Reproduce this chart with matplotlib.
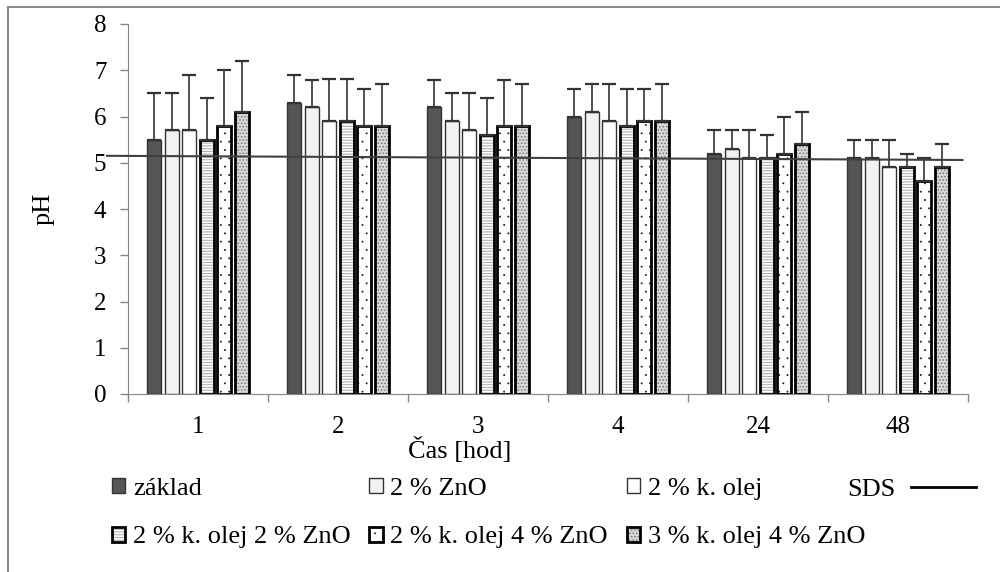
import numpy as np
import matplotlib
matplotlib.use("Agg")
import matplotlib.pyplot as plt
import matplotlib.hatch
from matplotlib.lines import Line2D

plt.rcParams['font.family'] = ['Liberation Serif', 'DejaVu Serif']
plt.rcParams['hatch.linewidth'] = 0.8
# smaller dots for the '.' hatch, closer to the Excel pattern fills
matplotlib.hatch.SmallFilledCircles.size = 0.05

# data
times = ['1', '2', '3', '4', '24', '48']
series = ['základ', '2 % ZnO', '2 % k. olej',
          '2 % k. olej 2 % ZnO', '2 % k. olej 4 % ZnO', '3 % k. olej 4 % ZnO']

zaklad = [5.5, 6.3, 6.2, 6.0, 5.2, 5.1]
zno2 = [5.7, 6.2, 5.9, 6.1, 5.3, 5.1]
olej2 = [5.7, 5.9, 5.7, 5.9, 5.1, 4.9]
olej2_zno2 = [5.5, 5.9, 5.6, 5.8, 5.1, 4.9]
olej2_zno4 = [5.8, 5.8, 5.8, 5.9, 5.2, 4.6]
olej3_zno4 = [6.1, 5.8, 5.8, 5.9, 5.4, 4.9]

err_zaklad = [1.0, 0.6, 0.6, 0.6, 0.5, 0.4]
err_zno2 = [0.8, 0.6, 0.6, 0.6, 0.4, 0.4]
err_olej2 = [1.2, 0.9, 0.8, 0.8, 0.6, 0.6]
err_olej2_zno2 = [0.9, 0.9, 0.8, 0.8, 0.5, 0.3]
err_olej2_zno4 = [1.2, 0.8, 1.0, 0.7, 0.8, 0.5]
err_olej3_zno4 = [1.1, 0.9, 0.9, 0.8, 0.7, 0.5]

sds_x = [-0.65, 5.46]
sds_y = [5.15, 5.06]

values = [zaklad, zno2, olej2, olej2_zno2, olej2_zno4, olej3_zno4]
errors = [err_zaklad, err_zno2, err_olej2, err_olej2_zno2, err_olej2_zno4, err_olej3_zno4]

# styles: (face, hatch colour, hatch, outline colour, outline width)
styles = [
    ('#555555', None, None, '#333333', 1.0),
    ('#f2f2f2', None, None, '#333333', 1.0),
    ('white', None, None, '#333333', 1.0),
    ('white', '#b0b0b0', '------', 'black', 2.0),
    ('white', '#222222', '..', 'black', 2.0),
    ('#d8d8d8', '#333333', '.....', 'black', 2.0),
]

fig = plt.figure(figsize=(10, 5.72), dpi=100)
ax = fig.add_axes([0.128, 1 - 394 / 572, 0.84, 370 / 572])

x = np.arange(len(times))
pitch = 0.126
width = 0.1
handles = []
for i, (vals, errs, st) in enumerate(zip(values, errors, styles)):
    face, hcol, hatch, ecol, lw = st
    pos = x + (i - 2.5) * pitch
    if hatch:
        b1 = ax.bar(pos, vals, width, color=face, edgecolor=hcol, hatch=hatch,
                    linewidth=0, zorder=2)
        b2 = ax.bar(pos, vals, width, fill=False, edgecolor=ecol, linewidth=lw,
                    zorder=3)
        handles.append((b1, b2))
    else:
        b = ax.bar(pos, vals, width, color=face, edgecolor=ecol, linewidth=lw,
                   zorder=3)
        handles.append(b)
    ax.errorbar(pos, vals, yerr=[np.zeros(len(errs)), errs], fmt='none',
                ecolor='#333333', elinewidth=1.2, capsize=4.7, capthick=1.6,
                zorder=4)

ax.plot(sds_x, sds_y, color='#404040', lw=1.5, clip_on=False, zorder=5)

ax.set_xlim(-0.5, len(times) - 0.5)
ax.set_ylim(0, 8)
ax.set_yticks(range(0, 9))
ax.set_xticks(x)
ax.set_xticklabels(times)
ax.set_xticks(np.arange(-0.5, len(times)), minor=True)
ax.tick_params(axis='x', which='major', length=0, pad=16, labelsize=18)
ax.tick_params(axis='x', which='minor', length=5.5, width=1, color='#868686')
ax.tick_params(axis='y', length=5.5, width=1, color='#868686', pad=10,
               labelsize=18)
for s in ['top', 'right']:
    ax.spines[s].set_visible(False)
for s in ['left', 'bottom']:
    ax.spines[s].set_color('#868686')

ax.set_xlabel('Čas [hod]', fontsize=19)
ax.xaxis.set_label_coords(0.395, -0.115)
ax.set_ylabel('pH', fontsize=19)
ax.yaxis.set_label_coords(-0.088, 0.5)

order = [0, 3, 1, 4, 2, 5]
fig.legend([handles[k] for k in order], [series[k] for k in order],
           ncol=3, loc='upper left', bbox_to_anchor=(0.112, 1 - 478 / 572),
           frameon=False, fontsize=19, borderpad=0, borderaxespad=0,
           handlelength=0.5, handleheight=0.5, handletextpad=0.3,
           columnspacing=0.7, labelspacing=1.0)
fig.legend([Line2D([], [], color='black', lw=2)], ['SDS'], loc='upper left',
           bbox_to_anchor=(0.847, 1 - 478 / 572), frameon=False, fontsize=19,
           borderpad=0, borderaxespad=0, markerfirst=False,
           handlelength=2.45, handletextpad=0.6)

# outer chart frame (only top and left edges visible in the crop)
fig.add_artist(Line2D([0.008, 0.008], [0, 1 - 7 / 572], transform=fig.transFigure,
                      color='#8c8c8c', lw=1.5))
fig.add_artist(Line2D([0.008, 1], [1 - 7 / 572, 1 - 7 / 572],
                      transform=fig.transFigure, color='#8c8c8c', lw=1.5))

fig.savefig('out.png', dpi=100)
